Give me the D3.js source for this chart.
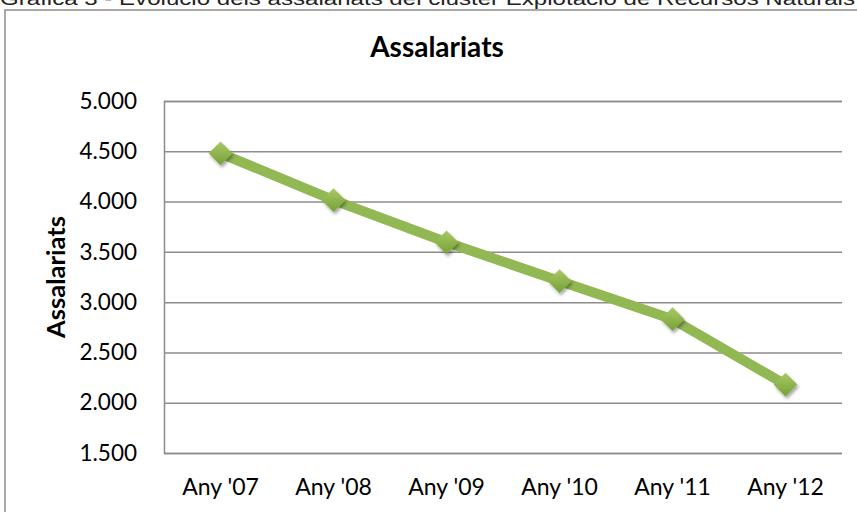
<!DOCTYPE html>
<html>
<head>
<meta charset="utf-8">
<script src="https://cdn.jsdelivr.net/npm/d3@7"></script>
<style>
  body { margin: 0; background: #fff; }
  svg { display: block; }
</style>
</head>
<body>
<div id="chart"></div>
<script>
// dades
const years = ["Any '07", "Any '08", "Any '09", "Any '10", "Any '11", "Any '12"];
const assalariats = [4480, 4015, 3595, 3210, 2830, 2180];
const yTicks = [1500, 2000, 2500, 3000, 3500, 4000, 4500, 5000];

const caption = "Gràfica 3 - Evolució dels assalariats del clúster Explotació de Recursos Naturals";
const chartTitle = "Assalariats";
const yTitle = "Assalariats";

const width = 857, height = 512;
const plot = { left: 164, right: 842, top: 101, bottom: 453 };
const font = "Lato, 'Open Sans', sans-serif";

const svg = d3.select("#chart").append("svg")
    .attr("width", width)
    .attr("height", height);

// gradient + ombra pels marcadors
const defs = svg.append("defs");
const grad = defs.append("linearGradient")
    .attr("id", "mk").attr("x1", 0).attr("y1", 0).attr("x2", 0).attr("y2", 1);
grad.append("stop").attr("offset", "0%").attr("stop-color", "#a9ca66");
grad.append("stop").attr("offset", "100%").attr("stop-color", "#77a036");
const shadow = defs.append("filter").attr("id", "sh")
    .attr("x", "-50%").attr("y", "-50%").attr("width", "200%").attr("height", "200%");
shadow.append("feDropShadow")
    .attr("dx", 1.5).attr("dy", 2.5).attr("stdDeviation", 1.6)
    .attr("flood-color", "#000").attr("flood-opacity", 0.35);

// peu de gràfica (tallat a dalt, com a l'original)
svg.append("text")
    .attr("x", 0)
    .attr("y", 5)
    .attr("font-family", "'Liberation Sans', Arial, sans-serif")
    .attr("font-size", 19)
    .attr("fill", "#222")
    .attr("textLength", 855)
    .attr("lengthAdjust", "spacingAndGlyphs")
    .text(caption);

// marc del gràfic
svg.append("rect")
    .attr("x", 5).attr("y", 10)
    .attr("width", 880).attr("height", 540)
    .attr("fill", "none")
    .attr("stroke", "#8c8c8c")
    .attr("stroke-width", 1.5);

const x = d3.scaleBand()
    .domain(years)
    .range([plot.left, plot.right]);

const y = d3.scaleLinear()
    .domain([1500, 5000])
    .range([plot.bottom, plot.top]);

// línies de quadrícula
const yAxis = svg.append("g")
    .attr("transform", `translate(${plot.left},0)`)
    .call(d3.axisLeft(y)
        .tickValues(yTicks)
        .tickSize(-(plot.right - plot.left))
        .tickPadding(27)
        .tickFormat(d => d3.format(",")(d).replace(",", ".")));
yAxis.select(".domain").attr("stroke", "#8c8c8c").attr("stroke-width", 1.5);
yAxis.selectAll(".tick line").attr("stroke", "#8c8c8c").attr("stroke-width", 1.5);
yAxis.selectAll(".tick text")
    .attr("font-family", font)
    .attr("font-size", 22.5)
    .attr("fill", "#000");

const xAxis = svg.append("g")
    .attr("transform", `translate(0,${plot.bottom})`)
    .call(d3.axisBottom(x).tickSize(0).tickPadding(26));
xAxis.select(".domain").remove();
xAxis.selectAll(".tick text")
    .attr("font-family", font)
    .attr("font-size", 23)
    .attr("fill", "#000");

// títols
svg.append("text")
    .attr("x", 437)
    .attr("y", 57)
    .attr("text-anchor", "middle")
    .attr("font-family", font)
    .attr("font-weight", "bold")
    .attr("font-size", 28)
    .text(chartTitle);

svg.append("text")
    .attr("transform", `translate(65,277) rotate(-90)`)
    .attr("text-anchor", "middle")
    .attr("font-family", font)
    .attr("font-weight", "bold")
    .attr("font-size", 25.5)
    .text(yTitle);

// sèrie
const cx = d => x(d) + x.bandwidth() / 2;
const line = d3.line()
    .x((d, i) => cx(years[i]))
    .y(d => y(d));

svg.append("path")
    .datum(assalariats)
    .attr("d", line)
    .attr("fill", "none")
    .attr("stroke", "#92b853")
    .attr("stroke-width", 10)
    .attr("stroke-linejoin", "round");

const diamond = d3.symbol().type(d3.symbolDiamond2).size(360);
svg.append("g").selectAll("path")
    .data(assalariats)
    .enter()
    .append("path")
    .attr("d", diamond)
    .attr("transform", (d, i) => `translate(${cx(years[i])},${y(d)})`)
    .attr("fill", "url(#mk)")
    .attr("filter", "url(#sh)");
</script>
</body>
</html>
